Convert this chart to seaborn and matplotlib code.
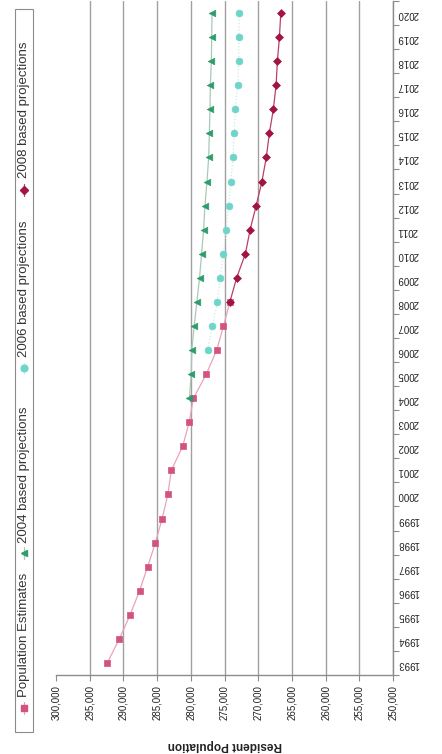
import matplotlib
matplotlib.use("Agg")
import matplotlib.pyplot as plt
import numpy as np
import pandas as pd
import seaborn as sns
from matplotlib.lines import Line2D
from matplotlib.patches import Rectangle
from matplotlib.ticker import FuncFormatter, FixedLocator

# Resident population: mid-year estimates and successive projections
est_years = list(range(1993, 2009))
est_values = [292400, 290600, 289000, 287600, 286400, 285250, 284250, 283400,
              282900, 281200, 280250, 279600, 277700, 276150, 275150, 274200]

p2004_years = list(range(2004, 2021))
p2004_values = [280200, 279950, 279850, 279500, 279100, 278700, 278400, 278100,
                277900, 277600, 277350, 277250, 277150, 277100, 276950, 276900,
                276850]

p2006_years = list(range(2006, 2021))
p2006_values = [277500, 276800, 276050, 275650, 275150, 274750, 274400, 274050,
                273750, 273550, 273400, 273050, 272900, 272850, 272800]

p2008_years = list(range(2008, 2021))
p2008_values = [274200, 273200, 271900, 271200, 270300, 269450, 268800, 268350,
                267750, 267350, 267150, 266850, 266650]

series_names = ["Population Estimates", "2004 based projections",
                "2006 based projections", "2008 based projections"]
tick_years = list(range(1993, 2021))
pop_ticks = list(range(250000, 300001, 5000))

series = [
    (est_years, est_values, "s", "#d4527f", "#e9a3bb", "-", 22),
    (p2004_years, p2004_values, "<", "#2f9c6c", "#a9c9b8", "-", 22),
    (p2006_years, p2006_values, "o", "#6fd5ca", "#c6ece7", ":", 24),
    (p2008_years, p2008_values, "D", "#a3143f", "#b8406a", "-", 16),
]

sns.set_theme(style="white")
plt.rcParams["font.family"] = ["Liberation Sans", "DejaVu Sans"]

W, H = 442, 754
fig = plt.figure(figsize=(W / 100, H / 100), dpi=100)
fig.patch.set_facecolor("white")

left, right, top, bottom = 56, 393, 1, 675
ax = fig.add_axes([left / W, 1 - bottom / H, (right - left) / W, (bottom - top) / H])
ax.set_facecolor("white")

for (yrs, vals, mk, mcol, lcol, ls, size), name in zip(series, series_names):
    df = pd.DataFrame({"year": yrs, "value": vals})
    sns.lineplot(data=df, x="value", y="year", orient="y", sort=False,
                 color=lcol, linewidth=0.9, linestyle=ls, ax=ax, zorder=2)
    sns.scatterplot(data=df, x="value", y="year", marker=mk, color=mcol,
                    edgecolor=mcol, linewidth=0.5, s=size, ax=ax, zorder=3,
                    legend=False)

ax.set_xlim(300000, 250000)
ax.set_ylim(1992.5, 2020.5)

# population axis along the bottom
ax.xaxis.set_major_locator(FixedLocator(pop_ticks))
ax.xaxis.set_major_formatter(FuncFormatter(lambda v, p: f"{v:,.0f}"))
ax.tick_params(axis="x", which="major", direction="out", length=4, width=0.8,
               color="#8c8c8c", labelsize=7, labelcolor="#222222", pad=3,
               labelrotation=90, bottom=True)
ax.grid(axis="x", color="#a0a0a0", linewidth=1.0)
ax.grid(axis="y", visible=False)
for gl, v in zip(ax.get_xgridlines(), pop_ticks):
    if v == 300000:
        gl.set_visible(False)

# year axis along the right
ax.yaxis.tick_right()
ax.yaxis.set_major_locator(FixedLocator(tick_years))
ax.yaxis.set_minor_locator(FixedLocator([y + 0.5 for y in range(1992, 2021)]))
ax.yaxis.set_major_formatter(FuncFormatter(lambda v, p: f"{int(v)}"))
ax.tick_params(axis="y", which="major", length=0, labelsize=7,
               labelcolor="#222222", pad=3, labelrotation=180)
ax.tick_params(axis="y", which="minor", length=4, width=0.8, color="#8c8c8c",
               direction="out", right=True, left=False)

ax.set_xlabel("Resident Population", fontsize=8.5, fontweight="bold",
              rotation=180, color="#222222", labelpad=14)
ax.set_ylabel("")

for side in ["left", "top"]:
    ax.spines[side].set_visible(False)
for side in ["right", "bottom"]:
    ax.spines[side].set_color("#8c8c8c")
    ax.spines[side].set_linewidth(1.0)

# legend box down the left side, text running bottom to top
def fx(px):
    return px / W

def fy(py):
    return 1 - py / H

fig.patches.append(Rectangle((fx(15), fy(732)), fx(33) - fx(15), fy(9) - fy(732),
                             transform=fig.transFigure, facecolor="white",
                             edgecolor="#8c8c8c", linewidth=0.8, zorder=1))
legend_marker_y = [708, 553, 368, 190]
legend_text_y = [697, 543, 357, 178]
lx = 24
for (yrs, vals, mk, mcol, lcol, ls, size), name, my, ty in zip(
        series, series_names, legend_marker_y, legend_text_y):
    fig.lines.append(Line2D([fx(lx), fx(lx)], [fy(my + 6), fy(my - 6)],
                            transform=fig.transFigure, color=lcol, lw=0.9,
                            linestyle=ls, zorder=2))
    fig.lines.append(Line2D([fx(lx)], [fy(my)], transform=fig.transFigure,
                            marker=mk, markersize=np.sqrt(size),
                            color=mcol, markeredgecolor=mcol, linestyle="none",
                            zorder=3))
    fig.text(fx(lx), fy(ty), name, rotation=90, ha="center", va="bottom",
             fontsize=9.5, color="#333333", zorder=3)

fig.savefig("out.png", dpi=100, facecolor="white")
